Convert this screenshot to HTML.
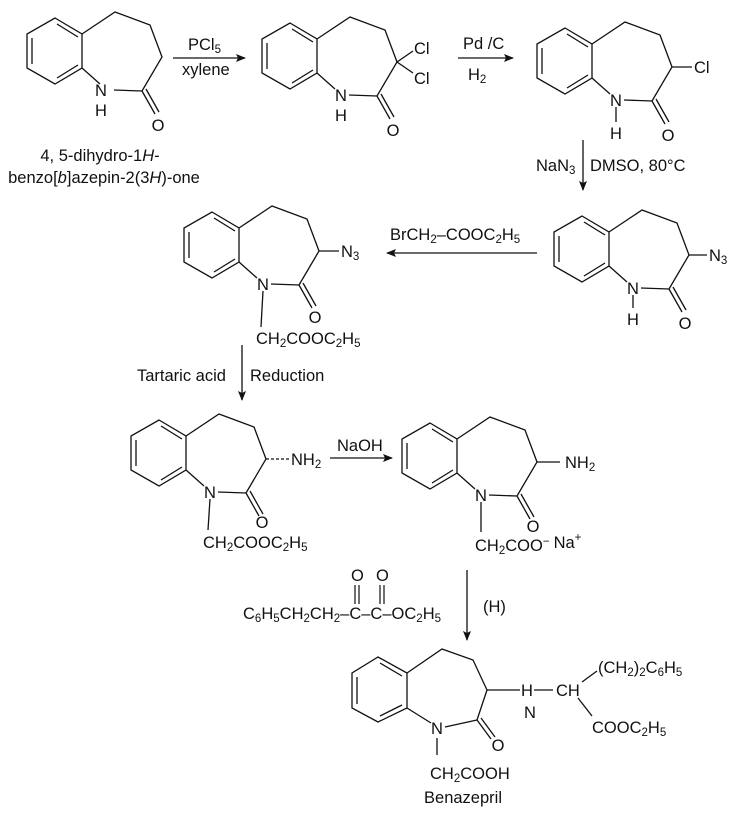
<!DOCTYPE html>
<html><head><meta charset="utf-8"><style>
body{margin:0;background:#fff}
svg{display:block}
text{font-family:"Liberation Sans",Arial,sans-serif;font-size:16.5px;fill:#111}
.s{font-size:11.5px}
</style></head><body>
<svg width="736" height="828" viewBox="0 0 736 828" xmlns="http://www.w3.org/2000/svg">
<defs>
<marker id="ah" markerWidth="10" markerHeight="8" refX="9" refY="4" orient="auto" markerUnits="userSpaceOnUse">
<path d="M0,0 L10,4 L0,8 L2,4 Z" fill="#111"/></marker>
<g id="ring" fill="none" stroke="#111" stroke-width="1.3">
<path d="M55,18 L82,34 L82,68 L55,84 L27,68 L27,34 Z"/>
<path d="M32,38 L32,64 M57,24 L78,37 M78,65 L57,78"/>
<path d="M82,34 L115,12 L150,25 L162,57 L142,91 M82,68 L100,84 M114,90 L142,91 M142,91 L155,114 M146,89 L159,112"/>
</g>
</defs>
<g stroke="#111" stroke-width="1.3" fill="none">
<line x1="173" y1="58" x2="245" y2="58" marker-end="url(#ah)"/>
<line x1="458" y1="58" x2="513" y2="58" marker-end="url(#ah)"/>
<line x1="583" y1="140" x2="583" y2="190" marker-end="url(#ah)"/>
<line x1="537" y1="253" x2="387" y2="253" marker-end="url(#ah)"/>
<line x1="242" y1="345" x2="242" y2="400" marker-end="url(#ah)"/>
<line x1="330" y1="458" x2="392" y2="458" marker-end="url(#ah)"/>
<line x1="467" y1="570" x2="467" y2="640" marker-end="url(#ah)"/>
</g>
<text x="188" y="50">PCl<tspan class="s" dy="3">5</tspan></text>
<text x="182" y="75">xylene</text>
<text x="463" y="49">Pd /C</text>
<text x="468" y="80">H<tspan class="s" dy="3">2</tspan></text>
<text x="536" y="171">NaN<tspan class="s" dy="3">3</tspan></text>
<text x="590" y="171">DMSO, 80°C</text>
<text x="390" y="240">BrCH<tspan class="s" dy="3">2</tspan><tspan dy="-3">–COOC</tspan><tspan class="s" dy="3">2</tspan><tspan dy="-3">H</tspan><tspan class="s" dy="3">5</tspan></text>
<text x="137" y="381">Tartaric acid</text>
<text x="250" y="381">Reduction</text>
<text x="337" y="451">NaOH</text>
<text x="483" y="612">(H)</text>
<text x="100" y="161" text-anchor="middle">4, 5-dihydro-1<tspan font-style="italic">H</tspan>-</text>
<text x="104" y="183" text-anchor="middle">benzo[<tspan font-style="italic">b</tspan>]azepin-2(3<tspan font-style="italic">H</tspan>)-one</text>
<!-- reagent -->
<text x="243" y="619">C<tspan class="s" dy="3">6</tspan><tspan dy="-3">H</tspan><tspan class="s" dy="3">5</tspan><tspan dy="-3">CH</tspan><tspan class="s" dy="3">2</tspan><tspan dy="-3">CH</tspan><tspan class="s" dy="3">2</tspan><tspan dy="-3">–C–C–OC</tspan><tspan class="s" dy="3">2</tspan><tspan dy="-3">H</tspan><tspan class="s" dy="3">5</tspan></text>
<text x="351" y="581">O</text><text x="376" y="581">O</text>
<g stroke="#111" stroke-width="1.2"><line x1="355" y1="585" x2="355" y2="604"/><line x1="359" y1="585" x2="359" y2="604"/><line x1="380" y1="585" x2="380" y2="604"/><line x1="384" y1="585" x2="384" y2="604"/></g>

<!-- mol1 -->
<g transform="translate(0,0)"><use href="#ring"/>
<text x="101" y="96" text-anchor="middle">N</text><text x="101" y="116" text-anchor="middle">H</text>
<text x="158" y="131" text-anchor="middle">O</text></g>
<!-- mol2 -->
<g transform="translate(235,5)"><use href="#ring"/>
<g stroke="#111" stroke-width="1.3"><line x1="162" y1="57" x2="178" y2="46"/><line x1="162" y1="57" x2="178" y2="68"/></g>
<text x="179" y="49">Cl</text><text x="179" y="79">Cl</text>
<text x="106" y="96" text-anchor="middle">N</text><text x="106" y="116" text-anchor="middle">H</text>
<text x="158" y="131" text-anchor="middle">O</text></g>
<!-- mol3 -->
<g transform="translate(510,10)"><use href="#ring"/>
<g stroke="#111" stroke-width="1.3"><line x1="162" y1="57" x2="182" y2="57"/><line x1="106" y1="97" x2="106" y2="112"/></g>
<text x="184" y="63">Cl</text>
<text x="106" y="96" text-anchor="middle">N</text><text x="106" y="129" text-anchor="middle">H</text>
<text x="158" y="131" text-anchor="middle">O</text></g>
<!-- mol4 -->
<g transform="translate(157,194)"><use href="#ring"/>
<g stroke="#111" stroke-width="1.3"><line x1="162" y1="57" x2="182" y2="57"/><line x1="106" y1="97" x2="104" y2="133"/></g>
<text x="184" y="63">N<tspan class="s" dy="3">3</tspan></text>
<text x="106" y="96" text-anchor="middle">N</text>
<text x="158" y="129" text-anchor="middle">O</text>
<text x="99" y="150">CH<tspan class="s" dy="3">2</tspan><tspan dy="-3">COOC</tspan><tspan class="s" dy="3">2</tspan><tspan dy="-3">H</tspan><tspan class="s" dy="3">5</tspan></text></g>
<!-- mol5 -->
<g transform="translate(527,198)"><use href="#ring"/>
<g stroke="#111" stroke-width="1.3"><line x1="162" y1="57" x2="180" y2="57"/><line x1="106" y1="97" x2="106" y2="110"/></g>
<text x="182" y="63">N<tspan class="s" dy="3">3</tspan></text>
<text x="106" y="96" text-anchor="middle">N</text><text x="106" y="127" text-anchor="middle">H</text>
<text x="158" y="131" text-anchor="middle">O</text></g>
<!-- mol6 -->
<g transform="translate(104,402)"><use href="#ring"/>
<g stroke="#111" stroke-width="1.3"><line x1="162" y1="57" x2="186" y2="57" stroke-dasharray="3,2"/><line x1="106" y1="97" x2="104" y2="128"/></g>
<text x="187" y="63">NH<tspan class="s" dy="3">2</tspan></text>
<text x="106" y="96" text-anchor="middle">N</text>
<text x="158" y="126" text-anchor="middle">O</text>
<text x="99" y="146">CH<tspan class="s" dy="3">2</tspan><tspan dy="-3">COOC</tspan><tspan class="s" dy="3">2</tspan><tspan dy="-3">H</tspan><tspan class="s" dy="3">5</tspan></text></g>
<!-- mol7 -->
<g transform="translate(375,405)"><use href="#ring"/>
<g stroke="#111" stroke-width="1.3"><line x1="162" y1="57" x2="185" y2="57"/><line x1="106" y1="97" x2="106" y2="127"/></g>
<text x="190" y="63">NH<tspan class="s" dy="3">2</tspan></text>
<text x="106" y="96" text-anchor="middle">N</text>
<text x="158" y="127" text-anchor="middle">O</text>
<text x="100" y="146">CH<tspan class="s" dy="3">2</tspan><tspan dy="-3">COO</tspan><tspan class="s" dy="-6">−</tspan><tspan dy="3" dx="4">Na</tspan><tspan class="s" dy="-7">+</tspan></text></g>
<!-- mol8 custom -->
<g fill="none" stroke="#111" stroke-width="1.3">
<path d="M378,657 L407,673 L407,708 L378,722 L352,708 L352,673 Z"/>
<path d="M357,677 L357,704 M380,663 L402,676 M402,705 L380,716"/>
<path d="M407,673 L442,649 L473,660 L487,690 L477,720 M407,708 L431,723 M445,727 L477,720 M477,720 L491,739 M481,718 L495,737 M437,738 L437,755"/>
</g>
<text x="437" y="734" text-anchor="middle">N</text>
<text x="498" y="751" text-anchor="middle">O</text>
<g stroke="#111" stroke-width="1.3">
<line x1="487" y1="690" x2="520" y2="690"/><line x1="534" y1="690" x2="553" y2="690"/>
<line x1="582" y1="682" x2="597" y2="671"/><line x1="578" y1="698" x2="592" y2="716"/></g>
<text x="527" y="696" text-anchor="middle">H</text>
<text x="530" y="718" text-anchor="middle">N</text>
<text x="556" y="696">CH</text>
<text x="598" y="673">(CH<tspan class="s" dy="3">2</tspan><tspan dy="-3">)</tspan><tspan class="s" dy="3">2</tspan><tspan dy="-3">C</tspan><tspan class="s" dy="3">6</tspan><tspan dy="-3">H</tspan><tspan class="s" dy="3">5</tspan></text>
<text x="592" y="733">COOC<tspan class="s" dy="3">2</tspan><tspan dy="-3">H</tspan><tspan class="s" dy="3">5</tspan></text>
<text x="430" y="779">CH<tspan class="s" dy="3">2</tspan><tspan dy="-3">COOH</tspan></text>
<text x="463" y="803" text-anchor="middle">Benazepril</text>
</svg>
</body></html>
